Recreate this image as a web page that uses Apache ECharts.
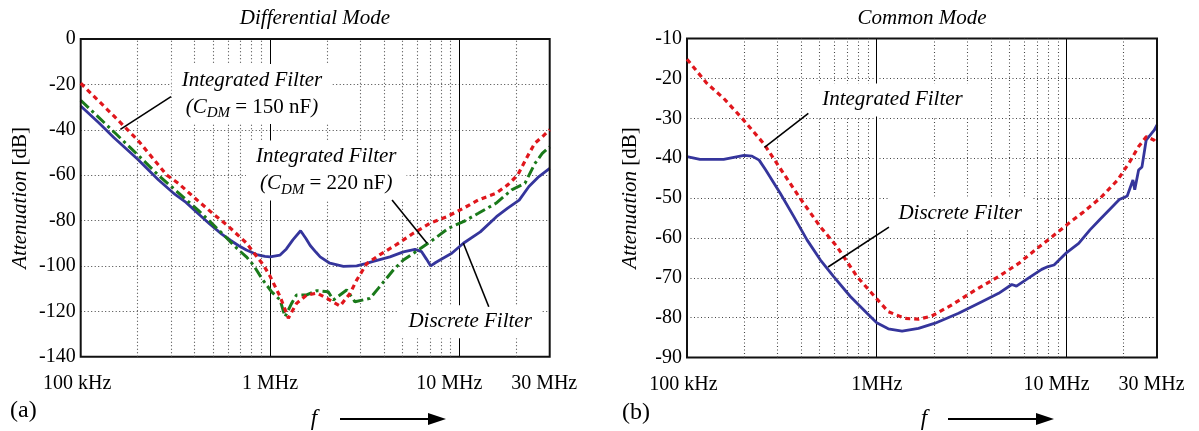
<!DOCTYPE html>
<html><head><meta charset="utf-8">
<script src="https://cdn.jsdelivr.net/npm/echarts/dist/echarts.min.js"></script>
<style>html,body{margin:0;padding:0;background:#fff}#c{width:1199px;height:431px}</style>
</head><body><div id="c"></div>
<script>
// ---------- DATA (frequency in MHz, attenuation in dB) ----------
const dmDiscreteF  = [0.1,0.125,0.15,0.2,0.257,0.315,0.36,0.418,0.48,0.556,0.62,0.68,0.75,0.85,0.94,1.0,1.13,1.22,1.32,1.45,1.55,1.63,1.75,1.84,2.07,2.44,2.87,3.2,3.51,4.3,5.06,5.83,6.32,6.7,7.06,7.5,7.9,9.12,10.5,12.9,15.7,18,20.7,23.3,26,30];
const dmDiscreteDb = [-29.5,-37,-43.5,-53,-62,-68.5,-72,-77,-81.5,-86,-88.8,-91,-93,-95,-95.8,-96,-95.2,-92.5,-88.5,-84.5,-88,-91,-94,-96,-98.8,-100.2,-100,-99,-98,-96,-93.8,-92.7,-93.7,-97,-100,-98.5,-97.4,-94.4,-90,-85,-78.3,-74.5,-71,-65,-61,-57];

const dmInt150F  = [0.1,0.15,0.2,0.285,0.328,0.402,0.5,0.602,0.753,0.8,0.922,1.0,1.13,1.25,1.38,1.56,1.77,2.0,2.34,2.65,2.87,3.24,3.81,4.67,5.71,7.0,8.58,10.5,12.6,15.6,18,20.3,22.8,25,27.5,30];
const dmInt150Db = [-19.5,-34,-44.5,-60,-63.6,-70.2,-77,-82.5,-90,-93,-99.6,-104.5,-113.5,-123,-116.5,-112.8,-112,-114.3,-117.7,-112,-106.2,-99,-95,-90.5,-85.6,-81.2,-78.3,-74.6,-70.9,-68,-64.3,-60,-52,-46,-43,-40];

const dmInt220F  = [0.1,0.15,0.2,0.257,0.315,0.418,0.556,0.667,0.75,0.817,0.904,1.02,1.13,1.2,1.3,1.38,1.56,1.77,2.03,2.16,2.54,2.81,3.37,3.73,4.48,5.06,6.07,7.45,8.75,10.5,12.6,15.6,18.9,22.2,25,27.4,30];
const dmInt220Db = [-27,-41,-51,-60,-66.5,-75.5,-85.5,-92.2,-96,-99.6,-105.5,-111.4,-115,-122.4,-116.5,-112.8,-112.8,-110.9,-111.4,-115,-110.6,-115.8,-114.3,-109.9,-101.8,-97.4,-93,-87.8,-83.4,-80.5,-76.8,-72.4,-66.5,-63.6,-55,-50.4,-47.5];

const cmIntF  = [0.1,0.127,0.156,0.195,0.253,0.31,0.395,0.504,0.617,0.787,1.0,1.15,1.41,1.66,1.95,2.49,3.3,4.39,5.6,6.85,8.4,10.3,12.3,15.1,18.6,21.5,24,26.4,29,30];
const cmIntDb = [-15.2,-21.2,-25,-30,-36.3,-42.6,-50.1,-57.2,-62.2,-69.7,-75.3,-78.5,-80.2,-80.4,-79.6,-76.8,-73.1,-69.7,-66.4,-63,-59.7,-56.3,-53.5,-50,-45.5,-41,-37.1,-34.6,-35.5,-36.3];

const cmDiscreteF  = [0.1,0.117,0.156,0.2,0.22,0.24,0.26,0.31,0.365,0.429,0.504,0.593,0.726,0.889,1.0,1.15,1.36,1.66,2.03,2.7,3.58,4.39,5.15,5.45,6.3,7.4,8.0,8.6,9.9,11.6,13.3,15,19,20.9,22.4,22.9,24,25,26.3,29,30];
const cmDiscreteDb = [-39.6,-40.3,-40.3,-39.3,-39.5,-40.5,-43,-48.8,-54.6,-60.5,-65.5,-69.7,-74.7,-78.9,-81.3,-82.8,-83.4,-82.7,-81.4,-78.9,-76,-73.9,-71.7,-72.1,-70.1,-67.9,-67.2,-66.8,-63.9,-61.4,-58,-55.4,-50.4,-49.5,-45.5,-47.9,-43,-42.2,-35.5,-33,-31.7];

// tick labels / grid
const xMajor = [0.1, 1, 10, 30];
const xLabelsDM = ['100 kHz', '1 MHz', '10 MHz', '30 MHz'];
const xLabelsCM = ['100 kHz', '1MHz', '10 MHz', '30 MHz'];
const xMinor = [0.2,0.3,0.4,0.5,0.6,0.7,0.8,0.9,2,3,4,5,6,7,8,9,20];

// ---------- STYLE ----------
const FONT = 'Liberation Serif';
const BLUE = '#35359c', RED = '#e0161c', GREEN = '#1a7a1a';

const zip = (f, d) => f.map((v, i) => [v, d[i]]);

function xAxisCfg(g, labels) {
  return {
    type: 'log', logBase: 10, gridIndex: g, min: 0.1, max: 30,
    axisLine: {show: false}, axisTick: {show: false},
    splitLine: {show: true, lineStyle: {color: '#000', width: 1, type: 'solid'}},
    axisLabel: {
      margin: 17, color: '#000', fontFamily: FONT, fontSize: 20,
      showMinLabel: true, showMaxLabel: true,
      formatter: function (v) {
        const k = Math.log10(v);
        const idx = xMajor.findIndex(m => Math.abs(Math.log10(m) - k) < 0.02);
        if (idx < 0) return '';
        const pad = ['a', 'b', 'c', 'd'][idx];
        return '{' + pad + '|' + labels[idx] + '}';
      },
      rich: {
        a: {fontFamily: FONT, fontSize: 20, color: '#000', padding: [0, 7, 0, 0]},
        b: {fontFamily: FONT, fontSize: 20, color: '#000'},
        c: {fontFamily: FONT, fontSize: 20, color: '#000', padding: [0, 20, 0, 0]},
        d: {fontFamily: FONT, fontSize: 20, color: '#000', padding: [0, 11, 0, 0]}
      }
    }
  };
}
function yAxisCfg(g, min, max, interval, gap) {
  return {
    type: 'value', gridIndex: g, min: min, max: max, interval: interval,
    axisLine: {show: false}, axisTick: {show: false},
    splitLine: {show: true, lineStyle: {color: '#444', width: 1.1, type: [1, 2.5]}},
    axisLabel: {margin: 5, color: '#000', fontFamily: FONT, fontSize: 20},
    name: '{i|Attenuation} {n|[dB]}', nameLocation: 'middle', nameGap: gap,
    nameTextStyle: {
      fontFamily: FONT, fontSize: 21,
      rich: {
        i: {fontFamily: FONT, fontStyle: 'italic', fontSize: 21, color: '#000'},
        n: {fontFamily: FONT, fontSize: 21, color: '#000'}
      }
    }
  };
}
function lineSeries(g, data, color, type, width, z) {
  return {
    type: 'line', xAxisIndex: g, yAxisIndex: g, data: data,
    showSymbol: false, symbol: 'none', smooth: false, z: z,
    lineStyle: {color: color, width: width, type: type},
    silent: true
  };
}
function minorSeries(g) {
  return {
    type: 'line', xAxisIndex: g, yAxisIndex: g, data: [], z: 1, silent: true,
    markLine: {
      silent: true, symbol: ['none', 'none'], label: {show: false}, animation: false,
      lineStyle: {color: '#444', width: 1.1, type: [1, 2.5]},
      data: xMinor.map(v => ({xAxis: v}))
    }
  };
}

const chart = echarts.init(document.getElementById('c'), null, {renderer: 'canvas'});
const option = {
  animation: false,
  backgroundColor: '#fff',
  textStyle: {fontFamily: FONT},
  grid: [
    {left: 80.7, top: 39, width: 469, height: 317.7, show: true, borderColor: '#111', borderWidth: 2, backgroundColor: 'transparent', z: 5},
    {left: 687, top: 38.5, width: 470, height: 319, show: true, borderColor: '#111', borderWidth: 2, backgroundColor: 'transparent', z: 5}
  ],
  xAxis: [xAxisCfg(0, xLabelsDM), xAxisCfg(1, xLabelsCM)],
  yAxis: [yAxisCfg(0, -140, 0, 20, 50), yAxisCfg(1, -90, -10, 10, 46)],
  series: [
    minorSeries(0), minorSeries(1),
    lineSeries(0, zip(dmDiscreteF, dmDiscreteDb), BLUE, 'solid', 2.8, 3),
    lineSeries(0, zip(dmInt220F, dmInt220Db), GREEN, [11, 4, 3, 4], 3, 4),
    lineSeries(0, zip(dmInt150F, dmInt150Db), RED, [5, 4], 3.2, 5),
    lineSeries(1, zip(cmDiscreteF, cmDiscreteDb), BLUE, 'solid', 2.8, 3),
    lineSeries(1, zip(cmIntF, cmIntDb), RED, [5, 4], 3.2, 5)
  ]
};
chart.setOption(option);

// ---------- ANNOTATIONS (anchored in data coordinates) ----------
const richBase = {
  i: {fontFamily: FONT, fontStyle: 'italic', fontSize: 21, lineHeight: 27, fill: '#000'},
  n: {fontFamily: FONT, fontSize: 21, lineHeight: 27, fill: '#000'},
  s: {fontFamily: FONT, fontStyle: 'italic', fontSize: 15, lineHeight: 16, verticalAlign: 'bottom', fill: '#000'}
};
const annTexts = [
  {g: 0, f: 0.803, db: -24.2, text: '{i|Integrated Filter}\n{i|(C}{s|DM}{n| = 150 nF}{i|)}'},
  {g: 0, f: 1.98, db: -57.9, text: '{i|Integrated Filter}\n{i|(C}{s|DM}{n| = 220 nF}{i|)}'},
  {g: 0, f: 11.4, db: -124.6, text: '{i|Discrete Filter}'},
  {g: 1, f: 1.21, db: -25.4, text: '{i|Integrated Filter}'},
  {g: 1, f: 2.75, db: -53.8, text: '{i|Discrete Filter}'}
];
const annLeaders = [
  {g: 0, a: [0.300, -25.4], b: [0.162, -39.8]},
  {g: 0, a: [4.41, -70.9], b: [6.75, -90.0]},
  {g: 0, a: [10.5, -90.0], b: [14.3, -118.0]},
  {g: 1, a: [0.436, -28.8], b: [0.256, -37.3]},
  {g: 1, a: [1.16, -57.3], b: [0.554, -67.3]}
];
const px = (g, f, d) => chart.convertToPixel({gridIndex: g}, [f, d]);

const elements = [];
annTexts.forEach(t => {
  const p = px(t.g, t.f, t.db);
  elements.push({
    type: 'text', x: p[0], y: p[1], z: 50,
    style: {text: t.text, rich: richBase, fontFamily: FONT, fontSize: 21, align: 'center', verticalAlign: 'middle',
            backgroundColor: '#fff', padding: [3, 10, 3, 10]}
  });
});
annLeaders.forEach(l => {
  const a = px(l.g, l.a[0], l.a[1]), b = px(l.g, l.b[0], l.b[1]);
  elements.push({type: 'line', z: 51, shape: {x1: a[0], y1: a[1], x2: b[0], y2: b[1]},
                 style: {stroke: '#000', lineWidth: 1.6}});
});
// titles, panel tags, frequency arrows
const titles = [
  {text: 'Differential Mode', x: 315, y: 18},
  {text: 'Common Mode', x: 922, y: 18}
];
titles.forEach(t => elements.push({type: 'text', x: t.x, y: t.y, z: 50,
  style: {text: t.text, fontFamily: FONT, fontStyle: 'italic', fontSize: 21, fill: '#000', align: 'center', verticalAlign: 'middle'}}));
[{t: '(a)', x: 10, y: 411}, {t: '(b)', x: 622, y: 413}].forEach(o => elements.push({type: 'text', x: o.x, y: o.y, z: 50,
  style: {text: o.t, fontFamily: FONT, fontSize: 24, fill: '#000', align: 'left', verticalAlign: 'middle'}}));
[{fx: 314, ax0: 340, ax1: 446, y: 419}, {fx: 924, ax0: 948, ax1: 1054, y: 419}].forEach(o => {
  elements.push({type: 'text', x: o.fx, y: o.y, z: 50,
    style: {text: 'f', fontFamily: FONT, fontStyle: 'italic', fontSize: 23, fill: '#000', align: 'center', verticalAlign: 'middle'}});
  elements.push({type: 'line', z: 50, shape: {x1: o.ax0, y1: o.y, x2: o.ax1 - 16, y2: o.y}, style: {stroke: '#000', lineWidth: 2.2}});
  elements.push({type: 'polygon', z: 50, shape: {points: [[o.ax1 - 18, o.y - 6], [o.ax1, o.y], [o.ax1 - 18, o.y + 6]]}, style: {fill: '#000'}});
});
chart.setOption({graphic: {elements: elements}});
</script>
</body></html>
